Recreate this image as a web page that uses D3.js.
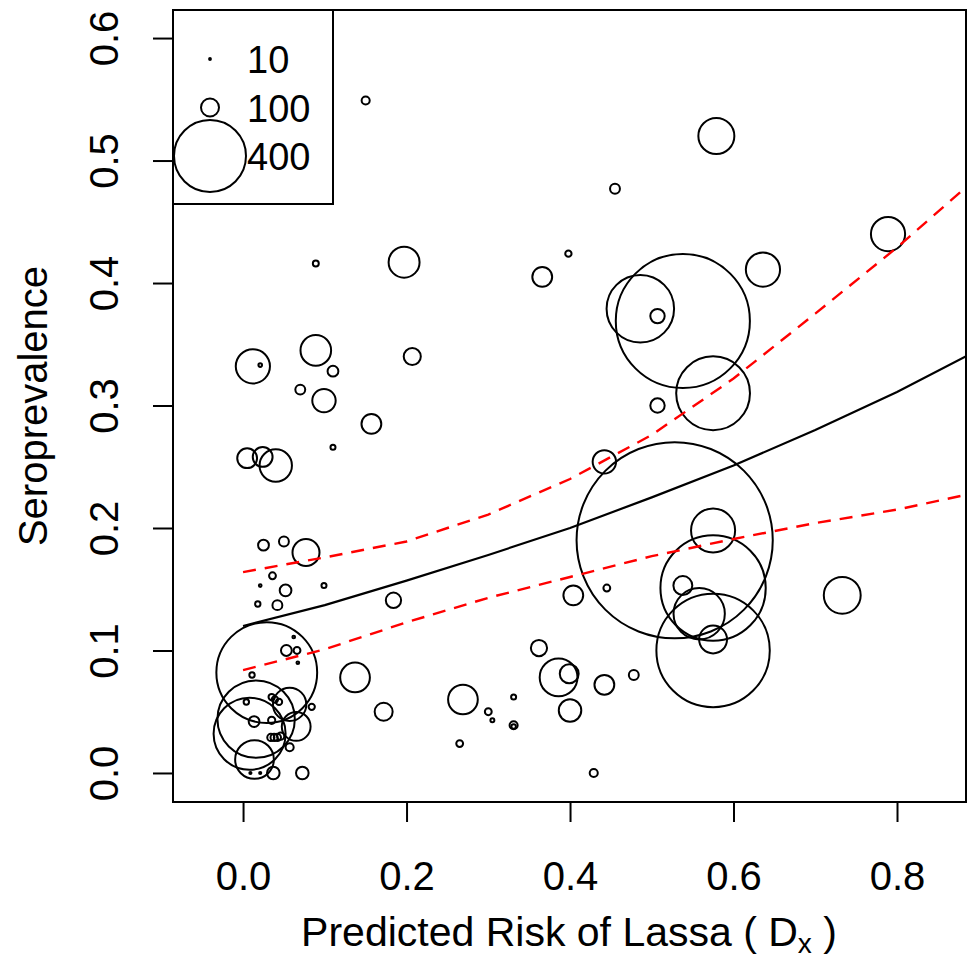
<!DOCTYPE html>
<html>
<head>
<meta charset="utf-8">
<script src="https://cdn.jsdelivr.net/npm/d3@7"></script>
<style>
  body { margin: 0; background: #fff; }
  text { font-family: "Liberation Sans", Arial, Helvetica, sans-serif; fill: #000; }
</style>
</head>
<body>
<div class="chart"></div>
<script>
// Study sites: predicted risk, seroprevalence, sample size
let riskX = [0.150, 0.579, 0.455, 0.789, 0.197, 0.089, 0.398, 0.366, 0.636, 0.486,
             0.507, 0.538, 0.575, 0.507, 0.442, 0.528, 0.575, 0.575, 0.538, 0.558,
             0.575, 0.575, 0.445, 0.404, 0.733, 0.478, 0.442, 0.400, 0.399, 0.386,
             0.362, 0.429, 0.269, 0.300, 0.305, 0.331, 0.331, 0.331, 0.265, 0.172,
             0.184, 0.137, 0.012, 0.021, 0.089, 0.110, 0.070, 0.099, 0.207, 0.157,
             0.110, 0.005, 0.024, 0.040, 0.025, 0.050, 0.077, 0.036, 0.021, 0.052,
             0.099, 0.018, 0.042, 0.062, 0.053, 0.066, 0.067, 0.029, 0.011, 0.016,
             0.008, 0.014, 0.057, 0.065, 0.084, 0.035, 0.039, 0.044, 0.004, 0.0135,
             0.035, 0.034, 0.038, 0.042, 0.046, 0.057, 0.037, 0.0725, 0.009, 0.021];
let seroY = [0.549, 0.520, 0.477, 0.440, 0.417, 0.416, 0.424, 0.405, 0.411, 0.379,
             0.373, 0.369, 0.310, 0.300, 0.254, 0.190, 0.198, 0.151, 0.153, 0.130,
             0.109, 0.100, 0.151, 0.145, 0.145, 0.080, 0.072, 0.051, 0.081, 0.078,
             0.102, 0.000, 0.060, 0.050, 0.043, 0.062, 0.039, 0.038, 0.024, 0.050,
             0.141, 0.078, 0.332, 0.333, 0.345, 0.328, 0.313, 0.304, 0.340, 0.285,
             0.266, 0.257, 0.258, 0.251, 0.186, 0.189, 0.180, 0.161, 0.153, 0.149,
             0.153, 0.138, 0.137, 0.111, 0.100, 0.100, 0.090, 0.082, 0.080, 0.044,
             0.032, 0.011, 0.056, 0.038, 0.054, 0.062, 0.060, 0.058, 0.058, 0.042,
             0.043, 0.029, 0.029, 0.029, 0.030, 0.021, 0.000, 0.000, 0.000, 0.000];
let sampleN = [45, 200, 55, 190, 172, 33, 35, 110, 190, 375,
               80, 745, 410, 80, 130, 1090, 245, 585, 105, 285,
               155, 630, 38, 110, 205, 55, 110, 125, 105, 210,
               90, 45, 165, 38, 22, 28, 45, 25, 38, 100,
               85, 165, 190, 20, 170, 60, 55, 130, 95, 110,
               28, 110, 110, 180, 60, 55, 150, 38, 15, 65,
               28, 30, 55, 15, 60, 38, 15, 560, 30, 430,
               400, 215, 185, 160, 35, 35, 35, 35, 30, 60,
               40, 40, 40, 40, 40, 45, 70, 70, 12, 12];

// Fitted curve and its bounds
let gridX   = [0, 0.1, 0.2, 0.3, 0.4, 0.5, 0.6, 0.7, 0.8, 0.884];
let fitMid  = [0.120, 0.137, 0.157, 0.178, 0.200, 0.225, 0.251, 0.280, 0.311, 0.340];
let fitHigh = [0.164, 0.176, 0.189, 0.211, 0.240, 0.276, 0.322, 0.375, 0.429, 0.478];
let fitLow  = [0.084, 0.101, 0.123, 0.143, 0.160, 0.177, 0.191, 0.204, 0.215, 0.227];

let xTicks = [0, 0.2, 0.4, 0.6, 0.8];
let yTicks = [0, 0.1, 0.2, 0.3, 0.4, 0.5, 0.6];
let legendN = [10, 100, 400];

let W = 968, H = 960;
let m = {left: 173, right: 966, top: 10, bottom: 802};
let font_size = "40px";

let svg = d3.select("div.chart").append("svg")
    .attr("width", W)
    .attr("height", H);

svg.append("rect").attr("width", W).attr("height", H).attr("fill", "#fff");

let x = d3.scaleLinear().domain([-0.0857, 0.8844]).range([m.left, m.right]);
let y = d3.scaleLinear().domain([-0.0237, 0.6229]).range([m.bottom, m.top]);
let r = d3.scaleLinear().domain([0, 400]).range([0, 36]);

svg.append("clipPath").attr("id", "plotclip")
  .append("rect")
    .attr("x", m.left).attr("y", m.top)
    .attr("width", m.right - m.left).attr("height", m.bottom - m.top);

let plot = svg.append("g").attr("clip-path", "url(#plotclip)");

// Circles
let pts = riskX.map(function(d, i) { return {x: d, y: seroY[i], n: sampleN[i]}; });
plot.selectAll("circle.site").data(pts).enter().append("circle")
    .attr("class", "site")
    .attr("cx", d => x(d.x))
    .attr("cy", d => y(d.y))
    .attr("r", d => r(d.n))
    .attr("fill", "none")
    .attr("stroke", "#000")
    .attr("stroke-width", 2);

// Fit lines
let line = d3.line().x((d, i) => x(gridX[i])).y(d => y(d));
plot.append("path").attr("d", line(fitMid))
    .attr("fill", "none").attr("stroke", "#000").attr("stroke-width", 2.2);
[fitHigh, fitLow].forEach(function(s) {
  plot.append("path").attr("d", line(s))
      .attr("fill", "none").attr("stroke", "#ff0000").attr("stroke-width", 2.4)
      .attr("stroke-dasharray", "13,9");
});

// Axes
let xAxis = svg.append("g")
    .attr("transform", "translate(0," + m.bottom + ")")
    .call(d3.axisBottom(x).tickValues(xTicks).tickFormat(d3.format(".1f"))
      .tickSize(20).tickPadding(40));
xAxis.select(".domain").remove();
xAxis.selectAll("line").attr("stroke", "#000").attr("stroke-width", 2);
xAxis.selectAll("text").style("font-size", font_size).attr("fill", "#000");

let yAxis = svg.append("g")
    .attr("transform", "translate(" + m.left + ",0)")
    .call(d3.axisLeft(y).tickValues(yTicks).tickFormat(d3.format(".1f")).tickSize(20));
yAxis.select(".domain").remove();
yAxis.selectAll("line").attr("stroke", "#000").attr("stroke-width", 2);
yAxis.selectAll("text")
    .style("font-size", font_size)
    .attr("fill", "#000")
    .attr("x", null).attr("dy", null)
    .attr("text-anchor", "middle")
    .attr("transform", "translate(-55,0) rotate(-90)");

// Box
svg.append("rect")
    .attr("x", m.left).attr("y", m.top)
    .attr("width", m.right - m.left).attr("height", m.bottom - m.top)
    .attr("fill", "none").attr("stroke", "#000").attr("stroke-width", 2);

// Axis titles
let xt = svg.append("text")
    .attr("x", 569).attr("y", 946)
    .attr("text-anchor", "middle")
    .style("font-size", "41px");
xt.append("tspan").text("Predicted Risk of Lassa ( D");
xt.append("tspan").text("x").style("font-size", "28px").attr("dy", 7);
xt.append("tspan").text("  )").attr("dy", -7);

svg.append("text")
    .attr("transform", "translate(47," + ((m.top + m.bottom) / 2) + ") rotate(-90)")
    .attr("text-anchor", "middle")
    .style("font-size", font_size)
    .text("Seroprevalence");

// Legend
let lg = svg.append("g");
lg.append("rect")
    .attr("x", m.left).attr("y", m.top)
    .attr("width", 160).attr("height", 194)
    .attr("fill", "#fff").attr("stroke", "#000").attr("stroke-width", 2);
let legY = d3.scalePoint().domain(legendN).range([59, 156]);
lg.selectAll("circle").data(legendN).enter().append("circle")
    .attr("cx", 210)
    .attr("cy", d => legY(d))
    .attr("r", d => r(d))
    .attr("fill", "none").attr("stroke", "#000").attr("stroke-width", 2);
lg.selectAll("text").data(legendN).enter().append("text")
    .attr("x", 247)
    .attr("y", d => legY(d) + 14)
    .style("font-size", "38px")
    .text(d => d);
</script>
</body>
</html>
